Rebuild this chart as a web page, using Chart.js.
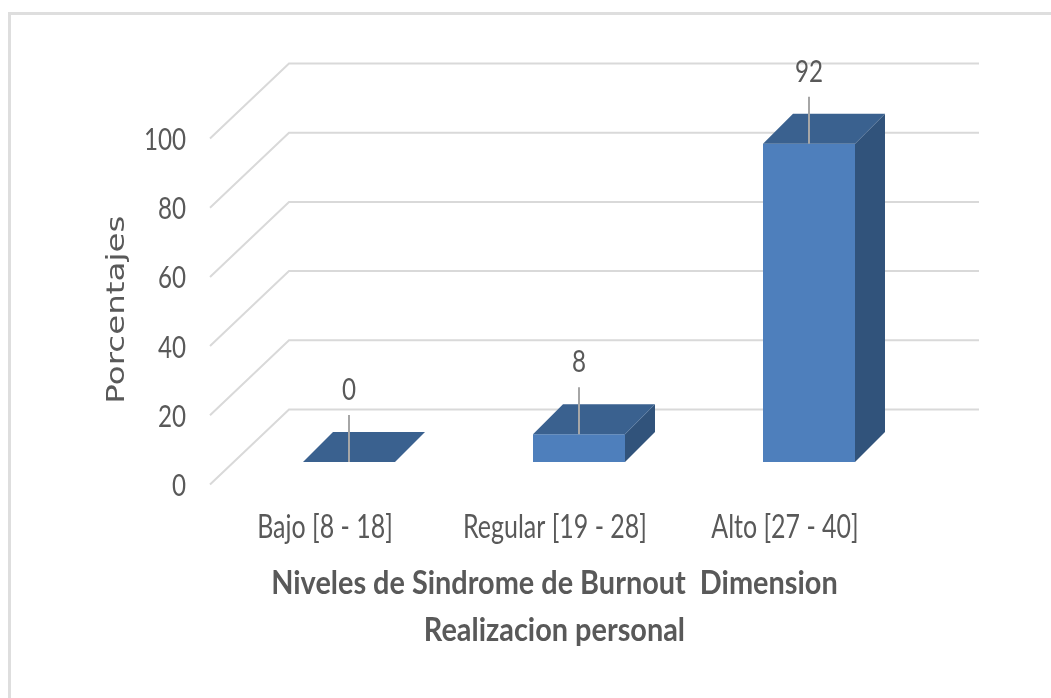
<!DOCTYPE html>
<html>
<head>
<meta charset="utf-8">
<style>
html,body{margin:0;padding:0;background:#fff;overflow:hidden;width:1051px;height:698px}
#frame{position:absolute;left:8px;top:12px;width:1100px;height:800px;border:3px solid #dedede}
canvas{position:absolute;left:0;top:0}
</style>
<script src="https://cdn.jsdelivr.net/npm/chart.js@4"></script>
</head>
<body>
<div id="frame"></div>
<canvas id="c" width="1051" height="698"></canvas>
<script>
const categories = ['Bajo [8 - 18]', 'Regular [19 - 28]', 'Alto [27 - 40]'];
const percentages = [0, 8, 92];
const yTicks = [0, 20, 40, 60, 80, 100];
const xTitleLines = ['Niveles de Sindrome de Burnout  Dimension', 'Realizacion personal'];
const yTitle = 'Porcentajes';

const BASE_FONT = 'Lato,sans-serif';
const TEXT = '#595959';
const GRID = '#d9d9d9';
const FRONT = '#4e7fbc', TOP = '#3a618f', SIDE = '#31537b';
const BAR_DEPTH = 30, WALL_FRONT = {dx:-24, dy:22.5}, WALL_BACK = {dx:55, dy:-52.5};
const nb = n => '\u00A0'.repeat(n);

/* The reference type is stretched horizontally by image resampling. */
const canvas = document.getElementById('c');
const c2d = canvas.getContext('2d');
const rawFillText = c2d.fillText.bind(c2d);
function stretchFor(font) {
  if (font.indexOf('DejaVu') >= 0) return 1.3;
  if (font.indexOf('bold') >= 0 || font.indexOf('700') >= 0) return 0.875;
  return 0.78;
}
c2d.fillText = function (text, x, y) {
  const sx = stretchFor(c2d.font);
  c2d.save();
  c2d.translate(x, y);
  c2d.scale(sx, 1);
  rawFillText(text, 0, 0);
  c2d.restore();
};

const box3d = {
  id: 'box3d',
  beforeDatasetsDraw(chart) {
    const {ctx, scales:{x, y}} = chart;
    ctx.save();
    ctx.strokeStyle = GRID; ctx.lineWidth = 2;
    yTicks.forEach(v => {
      const p = y.getPixelForValue(v);
      ctx.beginPath();
      ctx.moveTo(x.left + WALL_FRONT.dx, p + WALL_FRONT.dy);
      ctx.lineTo(x.left + WALL_BACK.dx, p + WALL_BACK.dy);
      ctx.lineTo(x.right + WALL_BACK.dx, p + WALL_BACK.dy);
      ctx.stroke();
    });
    ctx.restore();
  },
  afterDatasetsDraw(chart) {
    const {ctx} = chart;
    const meta = chart.getDatasetMeta(0);
    ctx.save();
    meta.data.forEach((b, i) => {
      const l = b.x - b.width / 2, r = b.x + b.width / 2, t = b.y, bot = b.base, d = BAR_DEPTH;
      ctx.fillStyle = SIDE;
      ctx.beginPath();
      ctx.moveTo(r, t); ctx.lineTo(r + d, t - d); ctx.lineTo(r + d, bot - d); ctx.lineTo(r, bot);
      ctx.closePath(); ctx.fill();
      ctx.fillStyle = TOP;
      ctx.beginPath();
      ctx.moveTo(l, t); ctx.lineTo(l + d, t - d); ctx.lineTo(r + d, t - d); ctx.lineTo(r, t);
      ctx.closePath(); ctx.fill();
      ctx.strokeStyle = '#a6a6a6'; ctx.lineWidth = 2;
      ctx.beginPath();
      ctx.moveTo(b.x, t); ctx.lineTo(b.x, t - 47); ctx.stroke();
      ctx.fillStyle = TEXT;
      ctx.font = '31px ' + BASE_FONT;
      ctx.textAlign = 'center'; ctx.textBaseline = 'middle';
      ctx.fillText(String(percentages[i]), b.x, t - 72);
    });
    ctx.restore();
  }
};

new Chart(canvas, {
  type: 'bar',
  data: {
    labels: categories,
    datasets: [{
      data: percentages,
      backgroundColor: FRONT,
      barPercentage: 0.4,
      categoryPercentage: 1
    }]
  },
  options: {
    responsive: false,
    animation: false,
    layout: {padding: {left: 0, top: 116, right: 127, bottom: 0}},
    plugins: {legend: {display: false}, tooltip: {enabled: false}},
    scales: {
      x: {
        afterFit(s) { s.height = 236; },
        grid: {display: false, drawTicks: false},
        border: {display: false},
        ticks: {color: TEXT, padding: 46, labelOffset: -24, maxRotation: 0, autoSkip: false, font: {family: BASE_FONT, size: 32}},
        title: {
          display: true,
          text: [xTitleLines[0] + nb(7), xTitleLines[1] + nb(7)],
          color: TEXT,
          padding: {top: 0, bottom: 45},
          font: {family: BASE_FONT, size: 33, weight: 'bold', lineHeight: 1.4}
        }
      },
      y: {
        min: 0, max: 100,
        afterFit(s) { s.width = 234; },
        afterBuildTicks(s) { s.ticks = yTicks.map(v => ({value: v})); },
        grid: {display: false, drawTicks: false},
        border: {display: false},
        ticks: {color: TEXT, padding: 48, labelOffset: 24, font: {family: BASE_FONT, size: 31}},
        title: {
          display: true,
          text: yTitle + nb(4),
          color: TEXT,
          padding: {top: 102, bottom: 0},
          font: {family: '"DejaVu Sans"', size: 25}
        }
      }
    }
  },
  plugins: [box3d]
});
</script>
</body>
</html>
